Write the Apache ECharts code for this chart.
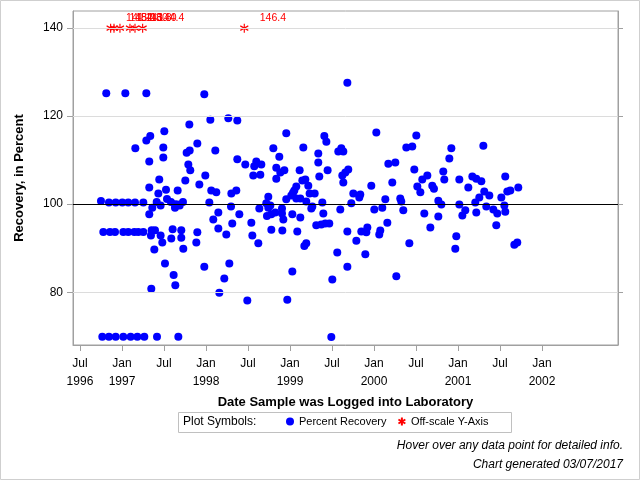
<!DOCTYPE html>
<html><head><meta charset="utf-8">
<script src="https://cdn.jsdelivr.net/npm/echarts@6/dist/echarts.min.js"></script>
<style>html,body{margin:0;padding:0;background:#fff}#chart{width:640px;height:480px}</style>
</head><body><div id="chart"></div>
<script>
// Date sample was logged (decimal years) and percent recovery
const logDate = [
 1996.813,1997.040,1997.290,
 1997.504,1997.337,1997.290,1997.159,1997.492,1997.492,1997.325,
 1997.444,1997.325,1997.433,1997.524,1997.663,
 1996.750,1996.845,1996.925,1997.004,1997.075,1997.155,1997.254,
 1997.361,1997.413,1997.460,1997.325,1997.536,1997.583,1997.631,1997.631,1997.663,1997.687,1997.726,
 1996.778,1996.857,1996.917,1997.016,1997.075,1997.147,1997.194,1997.254,
 1997.353,1997.393,1997.345,1997.460,1997.480,1997.603,1997.587,1997.706,1997.706,1997.730,
 1997.385,1997.512,1997.615,1997.635,1997.349,
 1996.766,1996.845,1996.925,1997.016,1997.103,1997.183,1997.266,1997.417,1997.671,
 1997.980,1997.802,1998.052,1998.266,1998.373,1997.897,1997.770,1997.806,1998.111,1997.790,
 1997.813,1997.754,1997.992,1997.921,1998.373,1998.468,1998.599,1998.575,1998.659,1998.563,
 1998.647,1998.063,1998.123,1998.302,1998.361,1998.040,1998.298,1998.147,1998.087,1998.397,
 1998.147,1998.313,1998.242,1997.897,1997.885,1998.540,1998.552,1998.623,1998.635,1997.980,
 1998.278,1998.218,1998.159,1998.492,
 1999.683,1998.956,1999.409,1999.433,1998.802,1999.159,1998.873,1999.337,1999.575,1999.611,
 1999.635,1999.337,1998.837,1998.885,1998.933,1998.837,1999.115,1999.448,1999.349,1999.623,
 1999.659,1999.694,1999.635,1999.147,1999.183,1999.218,1999.075,1999.052,1999.036,1999.016,
 1999.234,1999.294,1999.075,1999.123,1998.956,1998.742,1999.194,1999.385,1998.718,1998.742,
 1998.766,1999.266,1999.254,1998.905,1998.905,1998.921,1998.726,1998.778,1998.825,1999.028,
 1999.123,1999.397,1999.599,1999.313,1999.373,1999.421,1999.468,1998.778,1998.909,1999.087,
 1999.683,1999.194,1999.171,1999.563,1999.683,1999.028,1999.504,1998.968,1999.492,
 2000.028,2000.504,2000.385,2000.456,2000.171,2000.254,2000.480,2000.218,1999.968,2000.575,
 2000.635,2000.516,2000.552,2000.694,2000.714,1999.754,1999.837,1999.825,1999.730,2000.135,
 2000.313,2000.325,2000.004,2000.099,2000.349,2000.599,2000.159,2000.671,1999.849,1999.921,
 1999.909,1999.790,2000.075,2000.063,2000.421,1999.897,2000.266,
 2001.302,2000.921,2000.897,2000.825,2000.837,2001.016,2001.171,2001.218,2001.278,2001.123,
 2001.563,2001.718,2001.587,2001.623,2001.313,2001.373,2001.254,2001.516,2001.206,2000.766,
 2000.802,2001.016,2000.766,2001.087,2001.052,2001.337,2001.218,2001.421,2001.468,2001.552,
 2001.563,2001.456,2000.980,2000.968,2001.671,2001.706
];
const recovery = [
 125.2,125.2,125.2,
 116.6,115.5,114.5,112.7,112.9,110.6,109.7,
 105.6,103.8,102.4,103.3,103.1,
 100.7,100.4,100.4,100.4,100.4,100.4,100.4,
 99.2,100.5,99.7,97.7,101.2,100.5,100.0,99.2,99.9,99.7,100.5,
 93.7,93.7,93.7,93.7,93.7,93.7,93.7,93.7,
 94.1,94.1,92.9,92.9,91.3,94.3,92.2,94.1,92.4,89.9,
 89.7,86.5,83.9,81.6,80.8,
 69.9,69.9,69.9,69.9,69.9,69.9,69.9,69.9,69.9,
 125.0,118.1,119.2,119.5,119.0,113.8,111.7,112.2,112.2,109.0,
 107.7,105.4,106.5,104.5,110.2,109.0,109.7,108.6,109.0,106.5,
 106.7,103.1,102.7,102.4,103.1,100.4,99.5,98.1,96.5,97.7,
 94.5,95.6,93.1,93.6,91.3,95.8,92.9,91.1,99.0,85.8,
 86.5,83.1,79.9,78.1,
 127.6,116.1,115.5,114.2,112.7,112.9,110.8,111.5,112.0,112.7,
 112.0,109.5,108.3,107.2,107.7,105.8,107.7,107.7,106.3,106.5,
 107.2,107.9,104.9,105.4,105.6,104.2,104.0,103.1,102.6,102.0,
 102.4,102.4,101.3,101.3,101.1,101.7,100.6,100.4,100.2,99.2,
 99.7,99.5,99.0,99.0,97.9,96.5,97.3,97.7,98.1,97.7,
 97.0,97.9,98.8,95.2,95.4,95.6,95.6,94.2,94.0,93.8,
 93.8,91.1,90.5,89.0,85.8,84.7,82.9,78.3,69.8,
 116.3,115.6,112.9,113.1,109.2,109.5,107.9,104.9,104.2,105.6,
 106.5,104.0,102.7,104.2,103.5,102.4,102.2,101.5,100.2,101.1,
 101.3,100.6,98.8,99.2,98.6,97.9,95.8,94.7,93.8,94.7,
 93.6,91.7,94.0,93.1,91.1,88.6,83.6,
 113.3,112.7,110.4,107.4,105.6,105.6,106.3,105.8,105.2,103.8,
 106.3,103.8,102.9,103.1,102.9,102.0,101.5,101.5,100.4,100.8,
 99.9,99.9,97.2,98.6,97.4,99.5,98.1,98.8,97.9,99.7,
 98.3,95.2,92.7,89.9,90.8,91.3
];
// Off-scale results (actual values shown as labels; plotted at the top of the scale)
const offScaleDate  = [1996.865,1996.905,1996.976,1997.095,1997.155,1997.246,1998.456];
const offScaleValue = [141.4,148.0,152.3,143.8,160.0,144.4,146.4];
const offScalePlotAt = 140;
const xTickDates = [1996.5,1997,1997.5,1998,1998.5,1999,1999.5,2000,2000.5,2001,2001.5,2002];
const yTickValues = [80,100,120,140];
const gridValues = [80,120,140];
const referenceValue = 100;

const FONT = "'Liberation Sans', Arial, sans-serif";
const monthNames = ['Jan','Feb','Mar','Apr','May','Jun','Jul','Aug','Sep','Oct','Nov','Dec'];
function fmtDate(d){ const y=Math.floor(d); const m=Math.min(11,Math.floor((d-y)*12)); return monthNames[m]+' '+y; }

const chart = echarts.init(document.getElementById('chart'), null, {renderer:'canvas'});
const asterisk = 'path://M0,-5L0,5M-4.33,-2.5L4.33,2.5M-4.33,2.5L4.33,-2.5';
const axisGray = '#a0a0a0';

chart.setOption({
  animation:false,
  textStyle:{fontFamily:FONT},
  tooltip:{trigger:'item', formatter:p=>{
    if(p.seriesName==='Off-scale Y-Axis') return fmtDate(p.value[0])+'<br/>Recovery: '+p.data.actual.toFixed(1)+'%';
    if(p.seriesType==='scatter') return fmtDate(p.value[0])+'<br/>Recovery: '+p.value[1].toFixed(1)+'%';
    return '';
  }},
  grid:{left:73,right:22,top:11,bottom:135,show:true,borderColor:axisGray,borderWidth:1,backgroundColor:'#fff'},
  legend:{
    data:['Percent Recovery','Off-scale Y-Axis'], left:286, top:416, padding:0,
    itemWidth:8,itemHeight:8,itemGap:11, selectedMode:false,
    textStyle:{fontSize:11,color:'#000',fontFamily:FONT}
  },
  xAxis:{
    type:'value', min:1996.417, max:2002.905,
    axisLine:{show:true,lineStyle:{color:axisGray}},
    axisTick:{show:true,customValues:xTickDates,length:6,lineStyle:{color:axisGray}},
    axisLabel:{customValues:xTickDates,fontSize:12,color:'#000',lineHeight:18,margin:10,
      formatter:v=>{const y=Math.floor(v+1e-6); const jul=(v-y)>0.25; if(!jul) return 'Jan\n'+y; return v<1996.6?'Jul\n'+y:'Jul';}},
    splitLine:{show:false},
    name:'Date Sample was Logged into Laboratory', nameLocation:'middle', nameGap:45,
    nameTextStyle:{fontWeight:'bold',fontSize:13,color:'#000',fontFamily:FONT}
  },
  yAxis:[{
    type:'value', min:68, max:143.9, position:'left',
    axisLine:{show:true,lineStyle:{color:axisGray}},
    axisTick:{show:true,customValues:yTickValues,length:6,lineStyle:{color:axisGray}},
    axisLabel:{customValues:yTickValues,fontSize:12,color:'#000',margin:10},
    splitLine:{show:false},
    name:'Recovery, in Percent', nameLocation:'middle', nameGap:47, nameRotate:90,
    nameTextStyle:{fontWeight:'bold',fontSize:13,color:'#000',fontFamily:FONT}
  },{
    type:'value', min:68, max:143.9, position:'right',
    axisLine:{show:true,lineStyle:{color:axisGray}},
    axisTick:{show:true,customValues:yTickValues,length:5,lineStyle:{color:axisGray}},
    axisLabel:{show:false}, splitLine:{show:false}
  }],
  series:[
    {name:'refs', type:'line', data:[], z:1, silent:true,
      markLine:{silent:true, symbol:'none', label:{show:false}, animation:false,
        data:[
          ...gridValues.map(v=>({yAxis:v, lineStyle:{color:'#dcdcdc',width:1,type:'solid'}})),
          {yAxis:referenceValue, lineStyle:{color:'#000',width:1,type:'solid'}}
        ]}},
    {name:'Percent Recovery', type:'scatter', z:3, symbol:'circle', symbolSize:8,
      itemStyle:{color:'#0000ff',opacity:1},
      data: logDate.map((d,i)=>[d, recovery[i]])},
    {name:'Off-scale Y-Axis', type:'scatter', z:3, symbol:asterisk, symbolSize:[8,9],
      itemStyle:{color:'rgba(0,0,0,0)',borderColor:'#ff0000',borderWidth:1.2,opacity:1},
      label:{show:true, position:[20,-5], align:'left', verticalAlign:'middle', color:'#ff0000', fontSize:10.5, fontFamily:FONT,
        formatter:p=>p.data.actual.toFixed(1)},
      data: offScaleDate.map((d,i)=>({value:[d, offScalePlotAt], actual:offScaleValue[i]}))}
  ],
  graphic:[
    {type:'rect', silent:true, shape:{x:0.5,y:0.5,width:639,height:479}, style:{fill:'none',stroke:'#cfcfcf',lineWidth:1}},
    {type:'rect', silent:true, shape:{x:178.5,y:412.5,width:333,height:20}, style:{fill:'none',stroke:'#c0c0c0',lineWidth:1}},
    {type:'text', silent:true, x:183, y:422, style:{text:'Plot Symbols:', font:'12px '+FONT, fill:'#000', textVerticalAlign:'middle'}},
    {type:'text', silent:true, x:623, y:446, style:{text:'Hover over any data point for detailed info.', font:'italic 12px '+FONT, fill:'#000', textAlign:'right', textVerticalAlign:'middle'}},
    {type:'text', silent:true, x:623, y:465, style:{text:'Chart generated 03/07/2017', font:'italic 12px '+FONT, fill:'#000', textAlign:'right', textVerticalAlign:'middle'}}
  ]
});
</script></body></html>
